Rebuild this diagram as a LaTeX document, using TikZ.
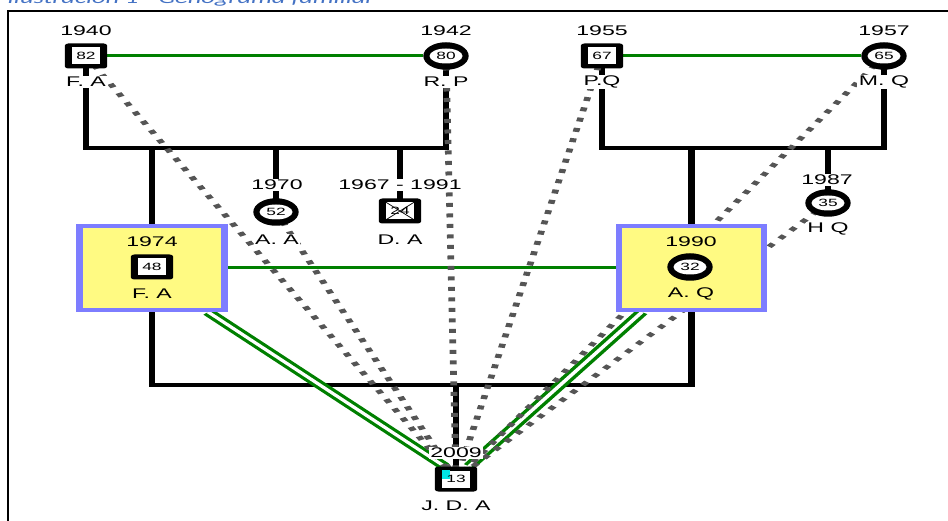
\documentclass[tikz,border=0pt]{standalone}
\usepackage{fontspec}
\setmainfont{Liberation Sans}
\newfontfamily\capfont{Carlito}
\usetikzlibrary{shapes.geometric}
\definecolor{grn}{RGB}{0,128,0}
\definecolor{dotgray}{RGB}{85,85,85}
\definecolor{boxyel}{RGB}{255,250,130}
\definecolor{boxblue}{RGB}{125,125,255}
\definecolor{capblue}{RGB}{68,114,196}
\definecolor{jcyan}{RGB}{0,230,230}
\pgfdeclarelayer{bg}
\pgfsetlayers{bg,main}
\begin{document}
\begin{tikzpicture}[x=1pt,y=-1pt,
 stretched/.style={transform canvas={xscale=1.65}, x=0.60606pt},
 kin/.style={line width=4pt, black},
 marr/.style={line width=3pt, grn},
 emo/.style={line width=4pt, dotgray, dash pattern=on 4pt off 6.5pt},
 dbl/.style={draw=grn, line width=2.6pt, double=white, double distance=2.6pt},
 maleo/.style={rectangle, fill=black, rounded corners=2pt, minimum width=25.5pt, minimum height=25pt, inner sep=0pt},
 malei/.style={rectangle, fill=white, minimum width=16.5pt, minimum height=17pt, inner sep=0pt},
 femo/.style={circle, fill=black, minimum size=27.5pt, inner sep=0pt},
 femi/.style={ellipse, fill=white, minimum width=20pt, minimum height=15pt, inner sep=0pt},
 numf/.style={inner sep=0pt, font=\fontsize{10.5}{10.5}\selectfont},
 lbl/.style={fill=white, inner sep=1pt, font=\fontsize{14}{14}\selectfont},
 blbl/.style={inner sep=1pt, font=\fontsize{14}{14}\selectfont},
 idx/.style={rectangle, draw=boxblue, line width=4pt, fill=boxyel, minimum width=88pt, minimum height=84pt, inner sep=0pt},
]
\useasboundingbox (0,0) rectangle (948,521);
\clip (0,0) rectangle (948,521);
% frame
\draw[line width=2pt] (8,521) -- (8,11) -- (948,11);

\begin{scope}[stretched]
% caption (cut off at the top)
\node[anchor=base west, inner sep=0pt, text=capblue, font=\capfont\itshape\fontsize{16}{16}\selectfont] (cap) at (7,3.5) {Ilustración 1 - Genograma familiar};

% index boxes
\node[idx] (bx1) at (152,268) {};
\node[idx] (bx2) at (691.5,268) {};

% symbols
\node[maleo] (fa) at (86,56) {};
\node[malei] (fa-i) at (fa) {}; \node[numf] (fa-n) at (fa) {82};
\node[femo] (rp) at (446,56) {};
\node[femi] (rp-i) at (rp) {}; \node[numf] (rp-n) at (rp) {80};
\node[maleo] (pq) at (602,56) {};
\node[malei] (pq-i) at (pq) {}; \node[numf] (pq-n) at (pq) {67};
\node[femo] (mq) at (884,56) {};
\node[femi] (mq-i) at (mq) {}; \node[numf] (mq-n) at (mq) {65};

\node[femo] (aa) at (276,212) {};
\node[femi] (aa-i) at (aa) {}; \node[numf] (aa-n) at (aa) {52};
\node[maleo] (da) at (400,211) {};
\node[malei] (da-i) at (da) {};
\draw[line width=0.6pt] (da-i.north west) -- (da-i.south east) (da-i.north east) -- (da-i.south west);
\node[numf] (da-n) at (da) {24};
\node[femo] (hq) at (828,203) {};
\node[femi] (hq-i) at (hq) {}; \node[numf] (hq-n) at (hq) {35};

\node[maleo] (fa2) at (152,267) {};
\node[malei] (fa2-i) at (fa2) {}; \node[numf] (fa2-n) at (fa2) {48};
\node[femo] (aq) at (690,267) {};
\node[femi] (aq-i) at (aq) {}; \node[numf] (aq-n) at (aq) {32};

\node[maleo] (jda) at (456,479) {};
\node[malei] (jda-i) at (jda) {};
\fill[jcyan] (jda-i.north west) rectangle ++(8,9);
\node[numf] (jda-n) at (jda) {13};

% labels
\node[lbl] (fa-y) at (86,31) {1940};
\node[lbl] (fa-l) at (86,82) {F. A};
\node[lbl] (rp-y) at (446,31) {1942};
\node[lbl] (rp-l) at (446,82) {R. P};
\node[lbl] (pq-y) at (602,31) {1955};
\node[lbl] (pq-l) at (602,82) {P.Q};
\node[lbl] (mq-y) at (884,31) {1957};
\node[lbl] (mq-l) at (884,82) {M. Q};
\node[lbl] (aa-y) at (277,185) {1970};
\node[lbl] (aa-l) at (277,240) {A. A};
\node[lbl] (da-y) at (400,185) {1967 - 1991};
\node[lbl] (da-l) at (400,240) {D. A};
\node[lbl] (hq-y) at (827,180) {1987};
\node[lbl] (hq-l) at (828,229) {H Q};
\node[blbl] (fa2-y) at (152,242) {1974};
\node[blbl] (fa2-l) at (152,294) {F. A};
\node[blbl] (aq-y) at (691,242) {1990};
\node[blbl] (aq-l) at (691,294) {A. Q};
\node[lbl] (jda-y) at (456,453) {2009};
\node[lbl] (jda-l) at (456,506) {J. D. A};

\coordinate (bar1) at (0,148);
\coordinate (bar3) at (0,385);
\end{scope}

\begin{pgfonlayer}{bg}
\begin{scope}[stretched]
% kinship lines
\draw[kin] (fa.center) -- (fa |- bar1) -- (rp |- bar1) -- (rp.center);
\draw[kin] (pq.center) -- (pq |- bar1) -- (mq |- bar1) -- (mq.center);
\draw[kin] (bx1.center) -- (bx1 |- bar1);
\draw[kin] (aa.center) -- (aa |- bar1);
\draw[kin] (da.center) -- (da |- bar1);
\draw[kin] (bx2.center) -- (bx2 |- bar1);
\draw[kin] (hq.center) -- (hq |- bar1);
\draw[kin] (bx1.center) -- (bx1 |- bar3) -- (bx2 |- bar3) -- (bx2.center);
\draw[kin] (jda.center) -- (jda |- bar3);
% marriages
\draw[marr] (fa) -- (rp);
\draw[marr] (pq) -- (mq);
\draw[marr] (bx1) -- (bx2);
% parent links of the index person
\draw[dbl] ([xshift=34pt]bx1.south) -- ([xshift=-7pt]jda.north);
\draw[dbl] ([xshift=-30pt]bx2.south) -- ([xshift=8pt]jda.north);
% emotional links
\draw[emo] (fa.center) -- (jda.center);
\draw[emo] (aa.center) -- (jda.center);
\draw[emo] (rp.center) -- (jda.center);
\draw[emo] (pq.center) -- (jda.center);
\draw[emo] (mq.center) -- (jda.center);
\draw[emo] (hq.center) -- (jda.center);
\end{scope}
\end{pgfonlayer}
\end{tikzpicture}
\end{document}
